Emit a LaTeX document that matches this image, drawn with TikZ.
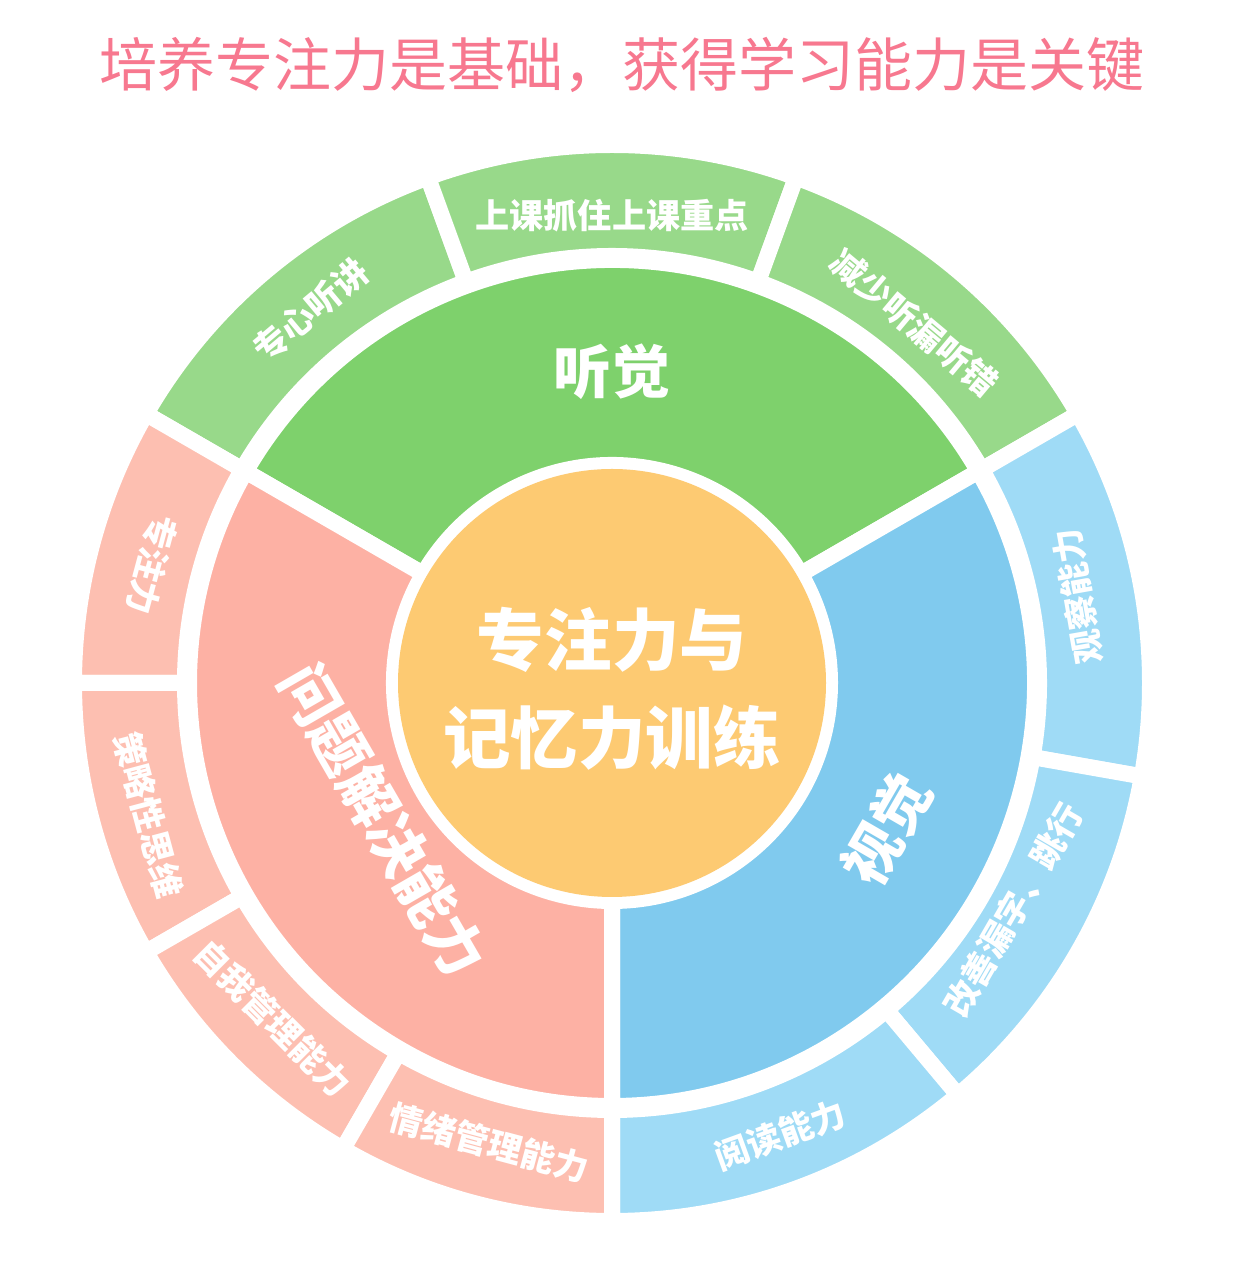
\documentclass[tikz,border=0pt]{standalone}
\usepackage{fontspec}
\newfontfamily\cjk{Noto Sans CJK SC}
\definecolor{titlepink}{HTML}{F7788F}
\definecolor{ginner}{HTML}{7ED16C}
\definecolor{gouter}{HTML}{98D98A}
\definecolor{binner}{HTML}{80CAEE}
\definecolor{bouter}{HTML}{9FDBF6}
\definecolor{pinner}{HTML}{FDB1A4}
\definecolor{pouter}{HTML}{FDBFB1}
\definecolor{corefill}{HTML}{FDCA72}

\begin{document}
\begin{tikzpicture}[x=0.01cm,y=0.01cm,
  seg/.style={draw=white,line width=1.6mm,line join=round},
  olab/.style={text=white,font=\cjk\bfseries\fontsize{9.7}{12}\selectfont},
  ilab/.style={text=white,font=\cjk\bfseries\fontsize{16.5}{20}\selectfont}]
  \useasboundingbox (0,0) rectangle (1242,1288);

  % 标题
  \node[text=titlepink,font=\cjk\fontsize{16.5}{20}\selectfont] (title) at (622,1223)
       {培养专注力是基础，获得学习能力是关键};

  \begin{scope}[shift={(612,605)}]
    % 内圈
    \filldraw[seg,fill=ginner] (30:218) arc[start angle=30,end angle=150,radius=218]
         -- (150:423) arc[start angle=150,end angle=30,radius=423] -- cycle;
    \filldraw[seg,fill=binner] (-90:218) arc[start angle=-90,end angle=30,radius=218]
         -- (30:423) arc[start angle=30,end angle=-90,radius=423] -- cycle;
    \filldraw[seg,fill=pinner] (150:218) arc[start angle=150,end angle=270,radius=218]
         -- (270:423) arc[start angle=270,end angle=150,radius=423] -- cycle;

    % 外圈：听觉
    \filldraw[seg,fill=gouter] (110:427) arc[start angle=110,end angle=150,radius=427]
         -- (150:538) arc[start angle=150,end angle=110,radius=538] -- cycle;
    \filldraw[seg,fill=gouter] (70:427) arc[start angle=70,end angle=110,radius=427]
         -- (110:538) arc[start angle=110,end angle=70,radius=538] -- cycle;
    \filldraw[seg,fill=gouter] (30:427) arc[start angle=30,end angle=70,radius=427]
         -- (70:538) arc[start angle=70,end angle=30,radius=538] -- cycle;

    % 外圈：视觉
    \filldraw[seg,fill=bouter] (-10:427) arc[start angle=-10,end angle=30,radius=427]
         -- (30:538) arc[start angle=30,end angle=-10,radius=538] -- cycle;
    \filldraw[seg,fill=bouter] (-50:427) arc[start angle=-50,end angle=-10,radius=427]
         -- (-10:538) arc[start angle=-10,end angle=-50,radius=538] -- cycle;
    \filldraw[seg,fill=bouter] (-90:427) arc[start angle=-90,end angle=-50,radius=427]
         -- (-50:538) arc[start angle=-50,end angle=-90,radius=538] -- cycle;

    % 外圈：问题解决能力
    \filldraw[seg,fill=pouter] (150:427) arc[start angle=150,end angle=180,radius=427]
         -- (180:538) arc[start angle=180,end angle=150,radius=538] -- cycle;
    \filldraw[seg,fill=pouter] (180:427) arc[start angle=180,end angle=210,radius=427]
         -- (210:538) arc[start angle=210,end angle=180,radius=538] -- cycle;
    \filldraw[seg,fill=pouter] (210:427) arc[start angle=210,end angle=240,radius=427]
         -- (240:538) arc[start angle=240,end angle=210,radius=538] -- cycle;
    \filldraw[seg,fill=pouter] (240:427) arc[start angle=240,end angle=270,radius=427]
         -- (270:538) arc[start angle=270,end angle=240,radius=538] -- cycle;

    % 中心
    \fill[corefill] (0,0) circle (214);
    \node[align=center,text=white,font=\cjk\bfseries\fontsize{19.2}{27.9}\selectfont]
         (core) at (0,-6) {专注力与\\记忆力训练};

    % 内圈标签
    \node[ilab] (ting) at (90:311) {听觉};
    \node[ilab,rotate=60] (shi) at (-28:311) {视觉};
    \node[ilab,rotate=-60] (wenti) at (211:267) {问题解决能力};

    % 外圈标签
    \node[olab,rotate=40] (zxtj) at (129:479) {专心听讲};
    \node[olab] (sk) at (90:467) {上课抓住上课重点};
    \node[olab,rotate=-40] (jsh) at (50:470) {减少听漏听错};
    \node[olab,rotate=100] (gc) at (10.5:474) {观察能力};
    \node[olab,rotate=60] (gs) at (-29.5:461) {改善漏字、跳行};
    \node[olab,rotate=20] (yd) at (-69.6:482) {阅读能力};
    \node[olab,rotate=255] (zzl) at (165.6:475) {专注力};
    \node[olab,rotate=-75] (cl) at (195.9:482) {策略性思维};
    \node[olab,rotate=-45] (zw) at (224.7:477) {自我管理能力};
    \node[olab,rotate=-15] (qx) at (255:476) {情绪管理能力};
  \end{scope}
\end{tikzpicture}
\end{document}
